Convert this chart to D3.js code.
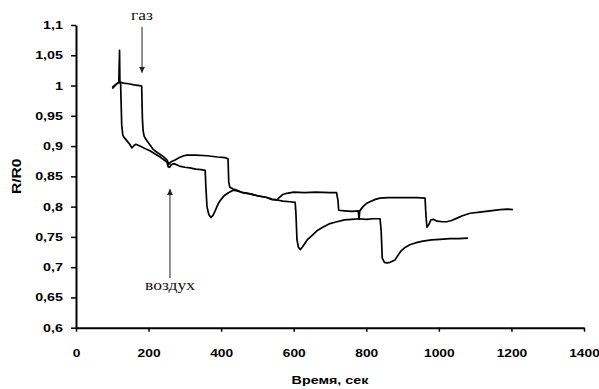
<!DOCTYPE html>
<html><head><meta charset="utf-8">
<script src="https://cdn.jsdelivr.net/npm/d3@7"></script>
<style>
body{margin:0;background:#fff;}
svg{display:block;}
.tick text{font-family:"Liberation Sans",Arial,sans-serif;font-weight:bold;font-size:11px;fill:#000;}
</style></head><body>
<svg id="c" width="599" height="389"></svg>
<script>
// Data (time in s, R/R0)
const seriesA = [[100,0.995],[105,0.998],[112,1.003],[118,1.005],[120,1.058],[121,1.005],[123,1.002],[126,0.935],[129,0.918],[133,0.914],[140,0.909],[148,0.903],[154,0.897],[160,0.901],[165,0.903],[176,0.900],[190,0.896],[205,0.892],[218,0.887],[232,0.882],[245,0.876],[251,0.873],[254,0.866],[258,0.865],[262,0.869],[270,0.871],[285,0.867],[300,0.865],[314,0.864],[330,0.862],[345,0.861],[356,0.860],[358,0.832],[361,0.800],[366,0.787],[372,0.782],[378,0.786],[385,0.795],[392,0.805],[400,0.812],[408,0.818],[420,0.823],[433,0.827],[444,0.826],[460,0.823],[480,0.821],[500,0.818],[526,0.815],[540,0.812],[554,0.811],[570,0.809],[590,0.808],[604,0.807],[606,0.790],[609,0.745],[613,0.733],[618,0.729],[625,0.734],[637,0.745],[650,0.752],[664,0.760],[680,0.766],[700,0.772],[719,0.775],[740,0.778],[760,0.779],[780,0.780],[800,0.779],[820,0.780],[838,0.780],[841,0.760],[844,0.715],[850,0.708],[857,0.707],[866,0.708],[879,0.712],[888,0.720],[896,0.727],[908,0.733],[920,0.737],[935,0.740],[956,0.743],[980,0.745],[1003,0.746],[1030,0.747],[1055,0.747],[1080,0.748]];
const seriesB = [[100,0.997],[108,1.001],[115,1.004],[120,1.006],[130,1.004],[145,1.003],[160,1.001],[175,1.000],[181,0.999],[183,0.945],[185,0.925],[188,0.916],[194,0.910],[200,0.905],[206,0.900],[212,0.895],[220,0.891],[230,0.887],[240,0.883],[251,0.877],[256,0.870],[262,0.874],[273,0.877],[285,0.881],[297,0.884],[306,0.885],[330,0.885],[361,0.884],[390,0.882],[410,0.881],[419,0.879],[421,0.840],[424,0.832],[433,0.829],[444,0.827],[460,0.823],[480,0.821],[500,0.818],[526,0.815],[540,0.812],[554,0.811],[560,0.815],[570,0.820],[581,0.822],[600,0.824],[630,0.823],[660,0.824],[700,0.823],[718,0.823],[722,0.810],[724,0.794],[740,0.793],[760,0.792],[778,0.793],[780,0.779],[782,0.793],[791,0.800],[800,0.805],[810,0.808],[825,0.812],[838,0.814],[860,0.815],[900,0.815],[940,0.815],[962,0.814],[964,0.790],[967,0.766],[972,0.770],[978,0.778],[985,0.779],[995,0.776],[1010,0.775],[1022,0.775],[1035,0.777],[1050,0.781],[1065,0.785],[1086,0.789],[1113,0.791],[1141,0.793],[1169,0.795],[1190,0.796],[1204,0.795]];
const xTicks = [0,200,400,600,800,1000,1200,1400];
const yTicks = [0.6,0.65,0.7,0.75,0.8,0.85,0.9,0.95,1,1.05,1.1];
const xTitle = "Время, сек";
const yTitle = "R/R0";
// annotations
const gasNote = {label:"газ", t:182, from:1.097, to:1.021, labelR:1.108};
const airNote = {label:"воздух", t:259, from:0.682, to:0.829, labelR:0.662};

const svg = d3.select("#c");
const M = {left:76, right:584, top:25, bottom:327.7};
const x = d3.scaleLinear().domain([0,1400]).range([M.left, M.right]);
const y = d3.scaleLinear().domain([0.6,1.1]).range([M.bottom, M.top]);
const fmt = d => String(+d.toFixed(2)).replace(".", ",");

const gx = svg.append("g").attr("transform",`translate(0,${M.bottom})`)
  .call(d3.axisBottom(x).tickValues(xTicks).tickFormat(d=>String(d)).tickSize(4).tickPadding(17).tickSizeOuter(0));
gx.select(".domain").attr("stroke","#000").attr("stroke-width",2);
gx.selectAll(".tick line").attr("stroke","#000").attr("stroke-width",1.5);
gx.selectAll(".tick text").attr("transform","scale(1.25,1)");

const gy = svg.append("g").attr("transform",`translate(${M.left},0)`)
  .call(d3.axisLeft(y).tickValues(yTicks).tickFormat(fmt).tickSize(5).tickPadding(5).tickSizeOuter(0));
gy.select(".domain").attr("stroke","#000").attr("stroke-width",2);
gy.selectAll(".tick line").attr("stroke","#000").attr("stroke-width",1.5);
gy.selectAll(".tick text").attr("x",-10).attr("transform","scale(1.3,1)");

svg.append("text").attr("x",330/1.3).attr("y",384).attr("transform","scale(1.3,1)")
  .attr("text-anchor","middle").attr("font-family","Liberation Sans, Arial, sans-serif")
  .attr("font-weight","bold").attr("font-size",11).text(xTitle);
svg.append("text").attr("transform",`translate(21,${(M.top+M.bottom)/2}) rotate(-90) scale(1.3,1)`)
  .attr("text-anchor","middle").attr("font-family","Liberation Sans, Arial, sans-serif")
  .attr("font-weight","bold").attr("font-size",12).text(yTitle);

const line = d3.line().x(d=>x(d[0])).y(d=>y(d[1]));
[seriesB, seriesA].forEach(s=>{
  svg.append("path").datum(s).attr("d",line).attr("fill","none")
    .attr("stroke","#000").attr("stroke-width",1.7).attr("stroke-linejoin","round");
});

svg.append("defs").append("marker").attr("id","ah").attr("viewBox","0 0 10 10")
  .attr("refX",10).attr("refY",5).attr("markerWidth",6).attr("markerHeight",9)
  .attr("markerUnits","userSpaceOnUse").attr("orient","auto")
  .append("path").attr("d","M0,0 L10,5 L0,10 z").attr("fill","#222");

[gasNote, airNote].forEach(n=>{
  svg.append("line").attr("x1",x(n.t)).attr("x2",x(n.t)).attr("y1",y(n.from)).attr("y2",y(n.to))
    .attr("stroke","#222").attr("stroke-width",1).attr("marker-end","url(#ah)");
  svg.append("text").attr("transform",`translate(${x(n.t)},${y(n.labelR)}) scale(1.25,1)`)
    .attr("text-anchor","middle").attr("font-family","Liberation Serif, Times New Roman, serif")
    .attr("font-size",14).attr("fill","#111").text(n.label);
});
</script></body></html>
